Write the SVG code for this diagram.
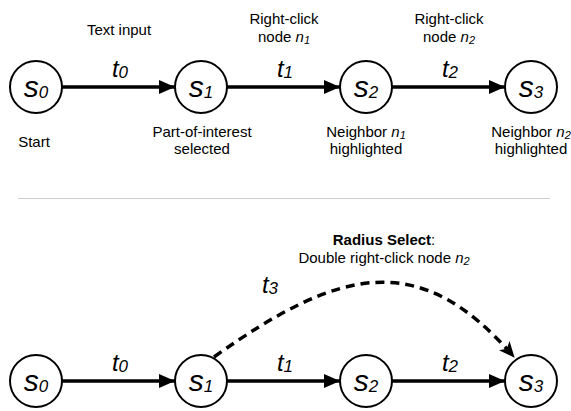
<svg xmlns="http://www.w3.org/2000/svg" width="571" height="411" viewBox="0 0 571 411">
<style>
text{font-family:"Liberation Sans",Arial,Helvetica,sans-serif;fill:#000}
.lbl{font-size:15px;text-anchor:middle}
.st{font-size:30px;font-style:italic;text-anchor:middle}
.tr{font-size:24px;font-style:italic;text-anchor:middle}
.sub{font-size:17px}
.nsub{font-size:11px;font-style:italic}
.node{fill:#fff;stroke:#000;stroke-width:2}
.edge{stroke:#000;stroke-width:3.5;fill:none}
.dash{stroke:#000;stroke-width:3.5;fill:none;stroke-dasharray:9 6}
.sep{stroke:#ccc;stroke-width:1}
</style>
<defs>
<marker id="ah" markerWidth="16" markerHeight="14" refX="16" refY="7" orient="auto" markerUnits="userSpaceOnUse">
<path d="M0,0 L16,7 L0,14 z" fill="#000"/>
</marker>
<marker id="ahd" markerWidth="16" markerHeight="14" refX="15" refY="7" orient="auto" markerUnits="userSpaceOnUse">
<path d="M0,0 L16,7 L0,14 L4,7 z" fill="#000"/>
</marker>
</defs>

<g id="connectors">
<line class="edge" x1="62" y1="87" x2="175" y2="87" marker-end="url(#ah)"/>
<line class="edge" x1="227" y1="87" x2="340" y2="87" marker-end="url(#ah)"/>
<line class="edge" x1="392" y1="87" x2="505" y2="87" marker-end="url(#ah)"/>
<line class="edge" x1="62" y1="381" x2="175" y2="381" marker-end="url(#ah)"/>
<line class="edge" x1="227" y1="381" x2="340" y2="381" marker-end="url(#ah)"/>
<line class="edge" x1="392" y1="381" x2="505" y2="381" marker-end="url(#ah)"/>
<path class="dash" d="M214,357 C340,267 420,248 514,357" marker-end="url(#ahd)"/>
</g>

<g id="top-s0"><circle class="node" cx="36" cy="87" r="26"/><text class="st" x="36" y="97">s<tspan class="sub" dy="1">0</tspan></text></g>
<g id="top-s1"><circle class="node" cx="201" cy="87" r="26"/><text class="st" x="201" y="97">s<tspan class="sub" dy="1">1</tspan></text></g>
<g id="top-s2"><circle class="node" cx="366" cy="87" r="26"/><text class="st" x="366" y="97">s<tspan class="sub" dy="1">2</tspan></text></g>
<g id="top-s3"><circle class="node" cx="531" cy="87" r="26"/><text class="st" x="531" y="97">s<tspan class="sub" dy="1">3</tspan></text></g>

<g id="top-labels">
<text class="lbl" x="119" y="35">Text input</text>
<text class="tr" x="120" y="77">t<tspan class="sub" dy="1">0</tspan></text>
<text class="lbl" x="284" y="24">Right-click</text>
<text class="lbl" x="284" y="42">node <tspan font-style="italic">n</tspan><tspan class="nsub" dy="2">1</tspan></text>
<text class="tr" x="285" y="77">t<tspan class="sub" dy="1">1</tspan></text>
<text class="lbl" x="449" y="24">Right-click</text>
<text class="lbl" x="449" y="42">node <tspan font-style="italic">n</tspan><tspan class="nsub" dy="2">2</tspan></text>
<text class="tr" x="450" y="77">t<tspan class="sub" dy="1">2</tspan></text>
<text class="lbl" x="34" y="147">Start</text>
<text class="lbl" x="202" y="137">Part-of-interest</text>
<text class="lbl" x="202" y="154">selected</text>
<text class="lbl" x="366" y="137">Neighbor <tspan font-style="italic">n</tspan><tspan class="nsub" dy="2">1</tspan></text>
<text class="lbl" x="366" y="154">highlighted</text>
<text class="lbl" x="531" y="137">Neighbor <tspan font-style="italic">n</tspan><tspan class="nsub" dy="2">2</tspan></text>
<text class="lbl" x="531" y="154">highlighted</text>
</g>

<line class="sep" x1="18" y1="198.5" x2="550" y2="198.5"/>

<g id="bot-s0"><circle class="node" cx="36" cy="381" r="26"/><text class="st" x="36" y="391">s<tspan class="sub" dy="1">0</tspan></text></g>
<g id="bot-s1"><circle class="node" cx="201" cy="381" r="26"/><text class="st" x="201" y="391">s<tspan class="sub" dy="1">1</tspan></text></g>
<g id="bot-s2"><circle class="node" cx="366" cy="381" r="26"/><text class="st" x="366" y="391">s<tspan class="sub" dy="1">2</tspan></text></g>
<g id="bot-s3"><circle class="node" cx="531" cy="381" r="26"/><text class="st" x="531" y="391">s<tspan class="sub" dy="1">3</tspan></text></g>

<g id="bottom-labels">
<text class="tr" x="120" y="371">t<tspan class="sub" dy="1">0</tspan></text>
<text class="tr" x="285" y="371">t<tspan class="sub" dy="1">1</tspan></text>
<text class="tr" x="450" y="371">t<tspan class="sub" dy="1">2</tspan></text>
<text class="tr" x="270" y="293">t<tspan class="sub" dy="1">3</tspan></text>
<text class="lbl" x="384" y="245"><tspan font-weight="bold">Radius Select</tspan>:</text>
<text class="lbl" x="384" y="263">Double right-click node <tspan font-style="italic">n</tspan><tspan class="nsub" dy="2">2</tspan></text>
</g>
</svg>
